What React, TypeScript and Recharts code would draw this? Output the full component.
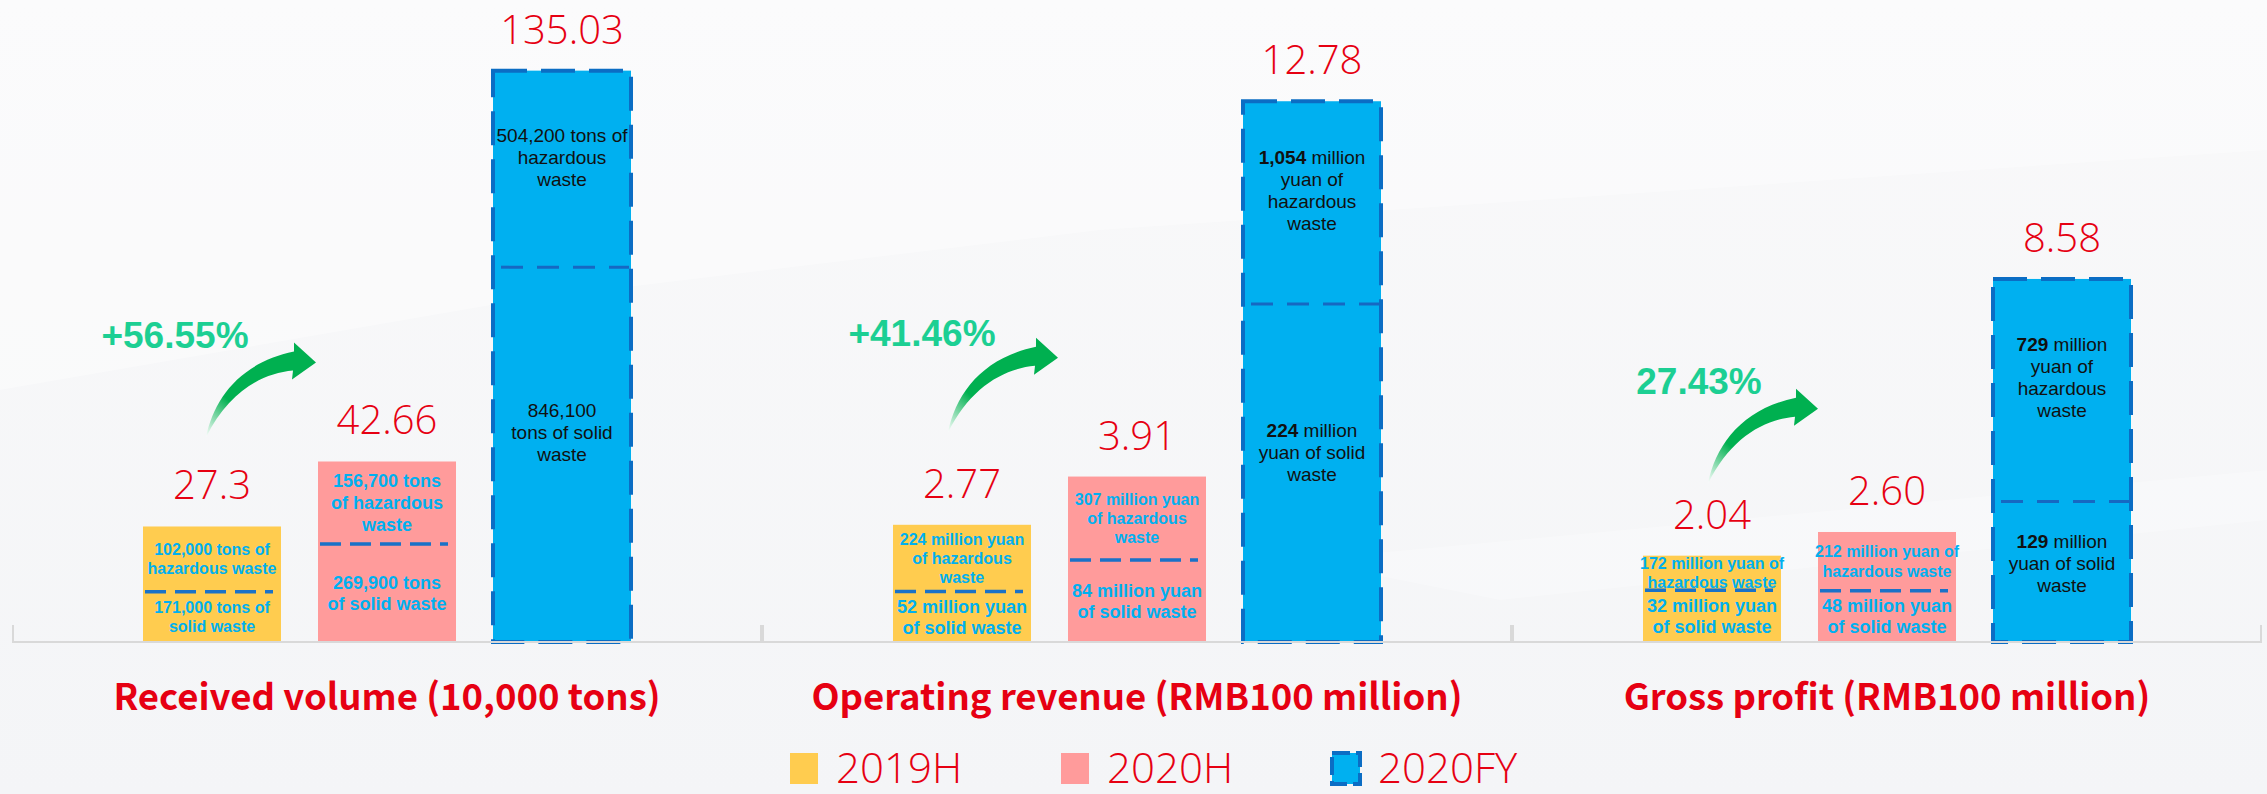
import React from "react";
import { BarChart, Bar, XAxis, YAxis, LabelList, Legend } from "recharts";

// three panels, each with its own scale
const panels = [
  "Received volume (10,000 tons)",
  "Operating revenue (RMB100 million)",
  "Gross profit (RMB100 million)",
];
const seriesNames = ["2019H", "2020H", "2020FY"];
const seriesKeys = ["h2019", "h2020", "fy2020"];
const receivedVolume = [27.3, 42.66, 135.03];
const operatingRevenue = [2.77, 3.91, 12.78];
const grossProfit = [2.04, 2.6, 8.58];
const growthRates = ["+56.55%", "+41.46%", "27.43%"];

const hazardousNotes = [
  [["102,000 tons of", "hazardous waste"], ["156,700 tons", "of hazardous", "waste"], ["504,200 tons of", "hazardous", "waste"]],
  [["224 million yuan", "of hazardous", "waste"], ["307 million yuan", "of hazardous", "waste"], ["1,054 million", "yuan of", "hazardous", "waste"]],
  [["172 million yuan of", "hazardous waste"], ["212 million yuan of", "hazardous waste"], ["729 million", "yuan of", "hazardous", "waste"]],
];
const solidNotes = [
  [["171,000 tons of", "solid waste"], ["269,900 tons", "of solid waste"], ["846,100", "tons of solid", "waste"]],
  [["52 million yuan", "of solid waste"], ["84 million yuan", "of solid waste"], ["224 million", "yuan of solid", "waste"]],
  [["32 million yuan", "of solid waste"], ["48 million yuan", "of solid waste"], ["129 million", "yuan of solid", "waste"]],
];

const panelValues = [receivedVolume, operatingRevenue, grossProfit];

// layout / style
const W = 750;
const H = 794;
const AXIS_H = 152;
const panelLeft = [12, 762, 1512];
const yMax = [141.8, 14.18, 14.18];
const fills = ["#ffcc4f", "#ff9b9b", "#00b0f0"];
const RED = "#e60012";
const GREEN = "#1ccf93";
const DARK_BLUE = "#0b6dc4";
// where the dashed divider sits, as a share of bar height from the bottom
const dividerAt = [
  [0.435, 0.543, 0.656],
  [0.43, 0.496, 0.625],
  [0.6, 0.466, 0.387],
];
const noteSize = [
  [[16, 16], [18, 18]],
  [[16, 18], [16, 18]],
  [[16, 18], [16, 18]],
];
const boldLead = [false, true, true];
const arrowPos = [
  { dx: 63, dy: 89, tx: 32, ty: 178 },
  { dx: 55, dy: 92, tx: 29, ty: 179 },
  { dx: 65, dy: 72, tx: 56, ty: 162 },
];

const ARROW_PATH =
  "M0,0 C8,-40 35,-75 88,-86 L88,-95 L110,-75 L86,-58 L87,-67 C55,-64 22,-45 0,0 Z";

function noteBlock(
  lines: string[],
  cx: number,
  cy: number,
  size: number,
  lh: number,
  fill: string,
  weight: number,
  boldFirst: boolean,
  key: string
) {
  const first = cy - ((lines.length - 1) * lh) / 2 + size * 0.35;
  return (
    <text
      key={key}
      textAnchor="middle"
      fontFamily="'Liberation Sans', Arial, sans-serif"
      fontSize={size}
      fontWeight={weight}
      fill={fill}
    >
      {lines.map((l, i) => {
        if (boldFirst && i === 0) {
          const sp = l.indexOf(" ");
          return (
            <tspan key={i} x={cx} y={first + i * lh}>
              <tspan fontWeight={700}>{l.slice(0, sp)}</tspan>
              {l.slice(sp)}
            </tspan>
          );
        }
        return (
          <tspan key={i} x={cx} y={first + i * lh}>
            {l}
          </tspan>
        );
      })}
    </text>
  );
}

function barShape(p: number, s: number) {
  return (props: any) => {
    const { x, y, width, height } = props;
    const bottom = y + height;
    const cut = bottom - height * dividerAt[p][s];
    const cx = x + width / 2;
    const isFY = s === 2;
    const parts: React.ReactNode[] = [];

    if (isFY) {
      parts.push(
        <rect key="r" x={x} y={y} width={width} height={height} fill={fills[s]}
          stroke={DARK_BLUE} strokeWidth={4} strokeDasharray="34 14" />
      );
      parts.push(
        <line key="d" x1={x + 8} x2={x + width - 2} y1={cut} y2={cut}
          stroke="#1668c2" strokeWidth={3} strokeDasharray="22 14" />
      );
      parts.push(noteBlock(hazardousNotes[p][s], cx, y + (cut - y) * 0.44, 19, 22, "#111", 400, boldLead[p], "t1"));
      parts.push(noteBlock(solidNotes[p][s], cx, cut + (bottom - cut) * 0.44, 19, 22, "#111", 400, boldLead[p], "t2"));
    } else {
      const [s1, s2] = noteSize[p][s];
      parts.push(<rect key="r" x={x} y={y} width={width} height={height} fill={fills[s]} />);
      parts.push(noteBlock(hazardousNotes[p][s], cx, (y + cut) / 2, s1, s1 * 1.2, "#00b0f0", 700, false, "t1"));
      parts.push(noteBlock(solidNotes[p][s], cx, (cut + bottom) / 2, s2, s2 * 1.17, "#00b0f0", 700, false, "t2"));
      parts.push(
        <line key="d" x1={x + 2} x2={x + width - 8} y1={cut} y2={cut}
          stroke="#1a72c8" strokeWidth={3.5} strokeDasharray="21 9" />
      );
    }

    if (s === 0) {
      const a = arrowPos[p];
      parts.push(
        <g key="arrow" transform={`translate(${x + a.dx},${y - a.dy})`}>
          <defs>
            <linearGradient id={`arrowGrad${p}`} x1="0" y1="1" x2="1" y2="0">
              <stop offset="0%" stopColor="#ffffff" />
              <stop offset="30%" stopColor="#00b050" />
              <stop offset="100%" stopColor="#00b050" />
            </linearGradient>
          </defs>
          <path d={ARROW_PATH} fill={`url(#arrowGrad${p})`} />
        </g>
      );
      parts.push(
        <text key="growth" x={x + a.tx} y={y - a.ty} textAnchor="middle"
          fontFamily="'Liberation Sans', Arial, sans-serif" fontWeight={700}
          fontSize={37} fill={GREEN}>
          {growthRates[p]}
        </text>
      );
    }
    return <g>{parts}</g>;
  };
}

function PanelTick(props: any) {
  const { x, y, payload } = props;
  return (
    <g>
      <line x1={x - W / 2 + 1} x2={x - W / 2 + 1} y1={y} y2={y - 17} stroke="#d9d9d9" strokeWidth={2} />
      <line x1={x + W / 2 - 1} x2={x + W / 2 - 1} y1={y} y2={y - 17} stroke="#d9d9d9" strokeWidth={2} />
      <text x={x} y={y + 68} textAnchor="middle" fill={RED} fontSize={36.5} fontWeight={700}
        fontFamily="'Noto Sans CJK SC', 'Noto Sans', sans-serif">
        {payload.value}
      </text>
    </g>
  );
}

function renderLegend(props: any) {
  const payload = [...(props.payload || [])].sort(
    (a: any, b: any) => seriesNames.indexOf(a.value) - seriesNames.indexOf(b.value)
  );
  return (
    <svg width={760} height={64} style={{ overflow: "visible" }}>
      {payload.map((entry: any) => {
        const idx = seriesNames.indexOf(entry.value);
        const lx = idx * 271;
        const fy = idx === 2;
        return (
          <g key={entry.value}>
            <rect x={lx + 2} y={23} width={28} height={31} fill={fills[idx]}
              stroke={fy ? DARK_BLUE : "none"} strokeWidth={fy ? 4 : 0}
              strokeDasharray={fy ? "18 6" : undefined} />
            <text x={lx + 48} y={53} fill={RED} fontSize={42} fontWeight={300}
              fontFamily="'Open Sans', 'Noto Sans', sans-serif">
              {entry.value}
            </text>
          </g>
        );
      })}
    </svg>
  );
}

function Panel({ p }: { p: number }) {
  const vals = panelValues[p];
  const row: any = { name: panels[p] };
  seriesKeys.forEach((k, i) => (row[k] = vals[i]));
  const fmt = (v: any) => (p === 0 ? String(v) : Number(v).toFixed(2));
  return (
    <BarChart width={W} height={H} data={[row]} margin={{ top: 42, right: 0, bottom: 0, left: 0 }}
      barSize={138} barGap={37}>
      <XAxis dataKey="name" height={AXIS_H} interval={0} tick={<PanelTick />} tickLine={false}
        tickSize={0} tickMargin={0} axisLine={{ stroke: "#d9d9d9", strokeWidth: 2 }} />
      <YAxis hide domain={[0, yMax[p]]} />
      {p === 1 && (
        <Legend layout="horizontal" verticalAlign="middle" align="center" itemSorter={null as any}
          wrapperStyle={{ left: 26, top: 730, width: 760, height: 64 }} content={renderLegend} />
      )}
      {seriesKeys.map((k, s) => (
        <Bar key={k} dataKey={k} name={seriesNames[s]} fill={fills[s]} shape={barShape(p, s)}
          isAnimationActive={false}>
          <LabelList dataKey={k} position="top" offset={27} formatter={fmt} fill={RED}
            fontSize={40} fontWeight={300} fontFamily="'Open Sans', 'Noto Sans', sans-serif" />
        </Bar>
      ))}
    </BarChart>
  );
}

export default function App() {
  return (
    <div style={{ position: "absolute", left: 0, top: 0, width: 2267, height: 794, overflow: "hidden",
      background: "linear-gradient(180deg, #f9f9fa 0%, #f4f5f7 100%)" }}>
      <svg width={2267} height={794} style={{ position: "absolute", left: 0, top: 0 }}>
        <polygon points="0,390 520,300 1100,230 2267,150 2267,0 0,0" fill="#ffffff" opacity={0.35} />
        <polygon points="1300,560 2267,470 2267,520 1500,600" fill="#ffffff" opacity={0.25} />
      </svg>
      {panels.map((_, p) => (
        <div key={p} style={{ position: "absolute", left: panelLeft[p], top: 0 }}>
          <Panel p={p} />
        </div>
      ))}
    </div>
  );
}
